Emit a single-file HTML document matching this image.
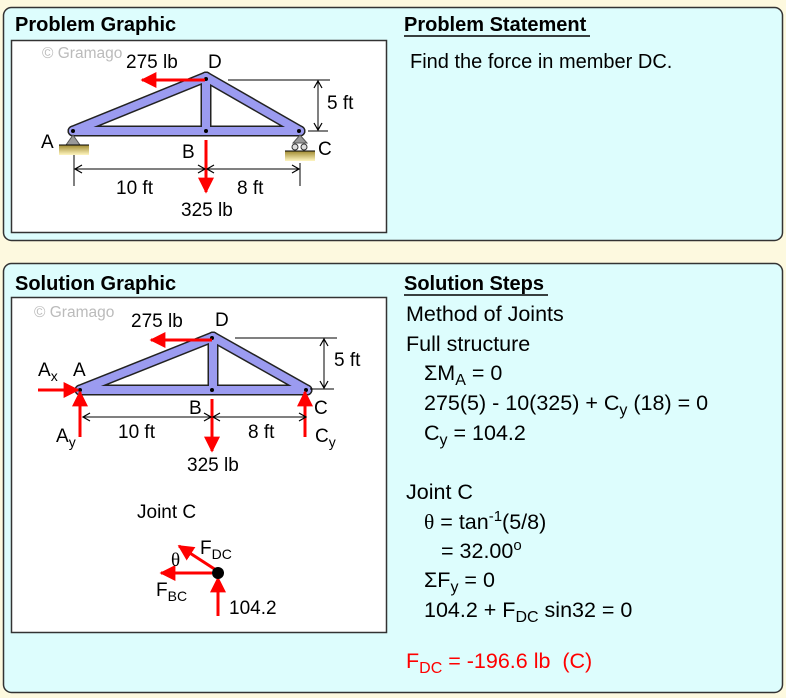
<!DOCTYPE html>
<html><head><meta charset="utf-8"><style>
html,body{margin:0;padding:0;background:#fdf9df;}
svg{display:block;font-family:"Liberation Sans",Arial,sans-serif;}
</style></head><body>
<svg width="786" height="698" viewBox="0 0 786 698" xmlns="http://www.w3.org/2000/svg">
<defs>
<marker id="ar" markerWidth="10" markerHeight="10" refX="8" refY="5" orient="auto-start-reverse" markerUnits="userSpaceOnUse"><path d="M1,1 L8,5 L1,9" fill="none" stroke="#000" stroke-width="1.2"/></marker>
<marker id="rh" viewBox="0 0 10 10" markerWidth="16" markerHeight="16" refX="9" refY="5" orient="auto" markerUnits="userSpaceOnUse"><path d="M0,0 L10,5 L0,10 Z" fill="#f00"/></marker>
<linearGradient id="gr" x1="0" y1="0" x2="0" y2="1"><stop offset="0" stop-color="#a08a30"/><stop offset="1" stop-color="#fff6c0"/></linearGradient>
</defs>
<rect x="0" y="0" width="786" height="698" fill="#fdf9df"/>
<rect x="3.5" y="7.5" width="779" height="233" rx="8" fill="#ddfdfd" stroke="#333" stroke-width="1.5"/>
<rect x="3.5" y="263.5" width="779" height="429" rx="8" fill="#ddfdfd" stroke="#333" stroke-width="1.5"/>
<rect x="11.5" y="40.5" width="375" height="192" fill="#fff" stroke="#333" stroke-width="1.5"/>
<rect x="11.5" y="297.5" width="375" height="335" fill="#fff" stroke="#333" stroke-width="1.5"/>
<g font-weight="bold" font-size="20" fill="#000">
<text x="15" y="31">Problem Graphic</text>
<text x="404" y="31">Problem Statement</text>
<text x="15" y="290">Solution Graphic</text>
<text x="404" y="290">Solution Steps</text>
</g>
<line x1="404" y1="36" x2="590" y2="36" stroke="#000" stroke-width="1.5"/>
<line x1="404" y1="295" x2="548" y2="295" stroke="#000" stroke-width="1.5"/>
<text x="410" y="68" font-size="20">Find the force in member DC.</text>

<!-- Problem truss -->
<g font-size="19">
<text x="42" y="58" fill="#bbb" font-size="15.5">© Gramago</text>
<g stroke-linecap="round">
<g stroke="#222" stroke-width="11">
<line x1="73" y1="131" x2="206" y2="77"/><line x1="206" y1="77" x2="300" y2="131"/><line x1="206" y1="77" x2="206" y2="131"/><line x1="73" y1="131" x2="300" y2="131"/></g>
<g stroke="#9b9bf0" stroke-width="8">
<line x1="73" y1="131" x2="206" y2="77"/><line x1="206" y1="77" x2="300" y2="131"/><line x1="206" y1="77" x2="206" y2="131"/><line x1="73" y1="131" x2="300" y2="131"/></g>
</g>
<circle cx="73" cy="131" r="2" fill="#000"/><circle cx="206" cy="131" r="2" fill="#000"/><circle cx="206" cy="79" r="2" fill="#000"/><circle cx="299" cy="131" r="2" fill="#000"/>
<path d="M73,135 L66,145 L80,145 Z" fill="#999" stroke="#555"/>
<rect x="59" y="145" width="30" height="10" fill="url(#gr)"/><line x1="59" y1="145" x2="89" y2="145" stroke="#000"/>
<path d="M300,135 L293,143 L307,143 Z" fill="#999" stroke="#555"/>
<circle cx="295" cy="147" r="3" fill="#ddd" stroke="#333"/><circle cx="304" cy="147" r="3" fill="#ddd" stroke="#333"/>
<rect x="285" y="151" width="30" height="10" fill="url(#gr)"/><line x1="285" y1="151" x2="315" y2="151" stroke="#000"/>
<line x1="205" y1="80" x2="142" y2="80" stroke="#f00" stroke-width="3" marker-end="url(#rh)"/>
<line x1="206" y1="140" x2="206" y2="192" stroke="#f00" stroke-width="3" marker-end="url(#rh)"/>
<line x1="228" y1="80" x2="330" y2="80" stroke="#000"/>
<line x1="308" y1="131" x2="328" y2="131" stroke="#000"/>
<line x1="318" y1="81" x2="318" y2="130" stroke="#000" marker-start="url(#ar)" marker-end="url(#ar)"/>
<line x1="74" y1="155" x2="74" y2="186" stroke="#000"/>
<line x1="300" y1="163" x2="300" y2="186" stroke="#000"/>
<line x1="75" y1="169" x2="205" y2="169" stroke="#000" marker-start="url(#ar)" marker-end="url(#ar)"/>
<line x1="207" y1="169" x2="299" y2="169" stroke="#000" marker-start="url(#ar)" marker-end="url(#ar)"/>
<text x="126" y="68">275 lb</text><text x="208" y="68">D</text>
<text x="327" y="109">5 ft</text>
<text x="41" y="148">A</text><text x="182" y="158">B</text><text x="318" y="155">C</text>
<text x="116" y="194">10 ft</text><text x="237" y="194">8 ft</text>
<text x="181" y="216">325 lb</text>
</g>

<!-- Solution truss -->
<g font-size="19">
<text x="34" y="317" fill="#bbb" font-size="15.5">© Gramago</text>
<g stroke-linecap="round">
<g stroke="#222" stroke-width="11">
<line x1="80" y1="390" x2="213" y2="337"/><line x1="213" y1="337" x2="307" y2="390"/><line x1="213" y1="337" x2="213" y2="390"/><line x1="80" y1="390" x2="307" y2="390"/></g>
<g stroke="#9b9bf0" stroke-width="8">
<line x1="80" y1="390" x2="213" y2="337"/><line x1="213" y1="337" x2="307" y2="390"/><line x1="213" y1="337" x2="213" y2="390"/><line x1="80" y1="390" x2="307" y2="390"/></g>
</g>
<circle cx="80" cy="390" r="2" fill="#000"/><circle cx="212" cy="390" r="2" fill="#000"/><circle cx="212" cy="338" r="2" fill="#000"/><circle cx="306" cy="390" r="2" fill="#000"/>
<line x1="212" y1="340" x2="151" y2="340" stroke="#f00" stroke-width="3" marker-end="url(#rh)"/>
<line x1="38" y1="390" x2="78" y2="390" stroke="#f00" stroke-width="3" marker-end="url(#rh)"/>
<line x1="80" y1="437" x2="80" y2="392" stroke="#f00" stroke-width="3" marker-end="url(#rh)"/>
<line x1="305" y1="437" x2="305" y2="392" stroke="#f00" stroke-width="3" marker-end="url(#rh)"/>
<line x1="212" y1="399" x2="212" y2="451" stroke="#f00" stroke-width="3" marker-end="url(#rh)"/>
<line x1="235" y1="338" x2="337" y2="338" stroke="#000"/>
<line x1="310" y1="389" x2="334" y2="389" stroke="#000"/>
<line x1="324" y1="339" x2="324" y2="388" stroke="#000" marker-start="url(#ar)" marker-end="url(#ar)"/>
<line x1="83" y1="417" x2="211" y2="417" stroke="#000" marker-start="url(#ar)" marker-end="url(#ar)"/>
<line x1="213" y1="417" x2="306" y2="417" stroke="#000" marker-start="url(#ar)" marker-end="url(#ar)"/>
<text x="131" y="327">275 lb</text><text x="215" y="326">D</text>
<text x="334" y="366">5 ft</text>
<text x="38" y="376">A<tspan font-size="14" dy="5">x</tspan></text>
<text x="73" y="376">A</text>
<text x="56" y="442">A<tspan font-size="14" dy="5">y</tspan></text>
<text x="189" y="414">B</text><text x="314" y="414">C</text>
<text x="315" y="442">C<tspan font-size="14" dy="5">y</tspan></text>
<text x="118" y="438">10 ft</text><text x="248" y="438">8 ft</text>
<text x="187" y="471">325 lb</text>
<text x="137" y="518">Joint C</text>
<line x1="216" y1="570" x2="179" y2="546" stroke="#f00" stroke-width="3" marker-end="url(#rh)"/>
<line x1="212" y1="573" x2="161" y2="573" stroke="#f00" stroke-width="3" marker-end="url(#rh)"/>
<line x1="218" y1="616" x2="218" y2="578" stroke="#f00" stroke-width="3" marker-end="url(#rh)"/>
<circle cx="218" cy="573" r="6" fill="#000"/>
<text x="200" y="554">F<tspan font-size="14" dy="5">DC</tspan></text>
<text x="171" y="566" font-family="Liberation Serif,serif">θ</text>
<text x="156" y="596">F<tspan font-size="14" dy="5">BC</tspan></text>
<text x="229" y="614">104.2</text>
</g>

<!-- Solution steps -->
<g font-size="21.5" fill="#000">
<text x="406" y="321">Method of Joints</text>
<text x="406" y="351">Full structure</text>
<text x="424" y="380">ΣM<tspan font-size="16" dy="5">A</tspan><tspan dy="-5"> = 0</tspan></text>
<text x="424" y="410">275(5) - 10(325) + C<tspan font-size="16" dy="5">y</tspan><tspan dy="-5"> (18) = 0</tspan></text>
<text x="424" y="440">C<tspan font-size="16" dy="5">y</tspan><tspan dy="-5"> = 104.2</tspan></text>
<text x="406" y="499">Joint C</text>
<text x="424" y="529"><tspan font-family="Liberation Serif,serif">θ</tspan> = tan<tspan font-size="15" dy="-8">-1</tspan><tspan dy="8">(5/8)</tspan></text>
<text x="441" y="558">= 32.00<tspan font-size="15" dy="-8">o</tspan></text>
<text x="424" y="587">ΣF<tspan font-size="16" dy="5">y</tspan><tspan dy="-5"> = 0</tspan></text>
<text x="424" y="617">104.2 + F<tspan font-size="16" dy="5">DC</tspan><tspan dy="-5"> sin32 = 0</tspan></text>
<text x="406" y="668" fill="#f00">F<tspan font-size="16" dy="5">DC</tspan><tspan dy="-5"> = -196.6 lb&#160; (C)</tspan></text>
</g>
</svg>
</body></html>
